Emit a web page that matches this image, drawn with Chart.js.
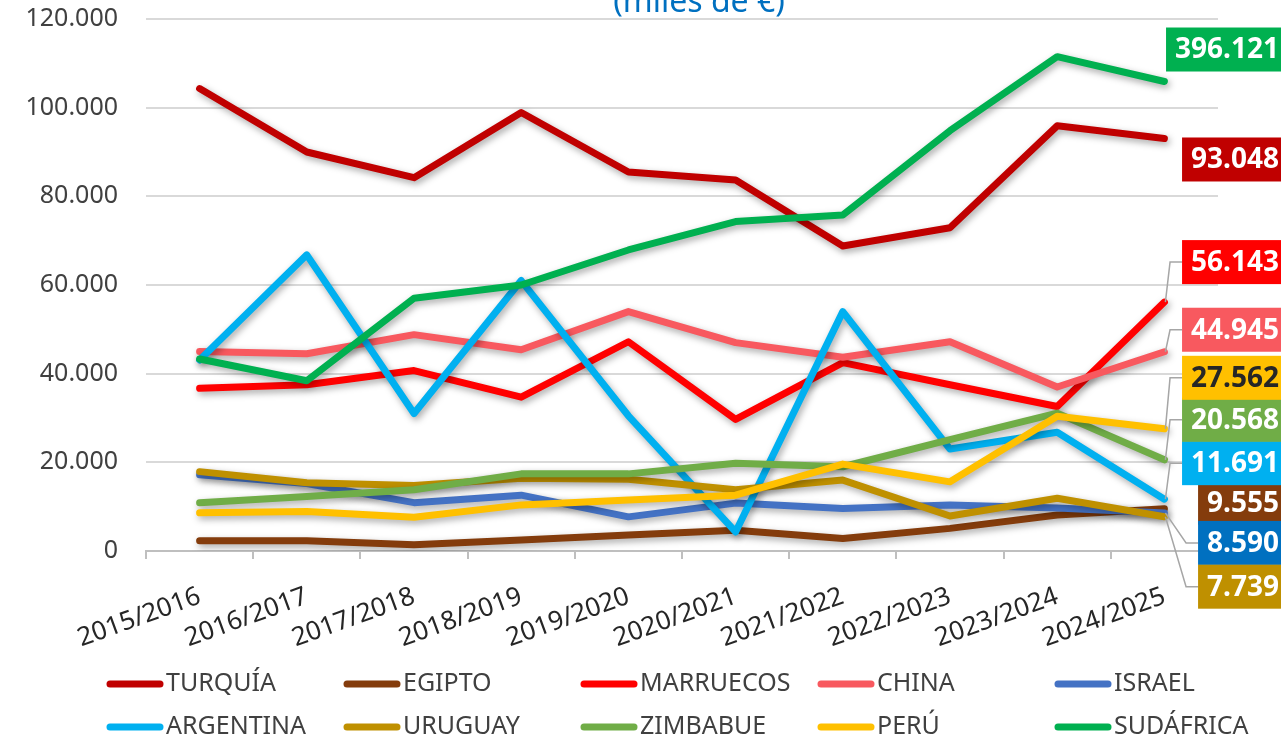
<!DOCTYPE html>
<html>
<head>
<meta charset="utf-8">
<script src="https://cdn.jsdelivr.net/npm/chart.js@4.4.1/dist/chart.umd.min.js"></script>
<style>
  html, body { margin: 0; padding: 0; background: #fff; }
  #wrap { width: 1281px; height: 743px; }
</style>
</head>
<body>
<div id="wrap"><canvas id="grafico" width="1281" height="743"></canvas></div>
<script>
const temporadas = ['2015/2016', '2016/2017', '2017/2018', '2018/2019', '2019/2020',
    '2020/2021', '2021/2022', '2022/2023', '2023/2024', '2024/2025'];

const paises = ['TURQUÍA', 'EGIPTO', 'MARRUECOS', 'CHINA', 'ISRAEL',
    'ARGENTINA', 'URUGUAY', 'ZIMBABUE', 'PERÚ', 'SUDÁFRICA'];

const turquia   = [104300, 90000, 84200, 98900, 85500, 83700, 68800, 72900, 95900, 93048];
const egipto    = [2300, 2300, 1400, 2500, 3600, 4700, 2800, 5100, 8100, 9555];
const marruecos = [36700, 37500, 40700, 34700, 47200, 29700, 42500, 37500, 32600, 56143];
const china     = [45000, 44500, 48800, 45400, 54000, 47000, 43700, 47200, 37000, 44945];
const israel    = [17200, 15200, 10900, 12600, 7700, 10800, 9600, 10400, 9700, 8590];
const argentina = [43100, 66800, 31000, 61000, 30500, 4300, 54000, 23000, 26800, 11691];
const uruguay   = [17900, 15400, 14800, 16400, 16200, 13800, 16000, 7900, 11900, 7739];
const zimbabue  = [10900, 12300, 13800, 17400, 17400, 19800, 19000, 25100, 31100, 20568];
const peru      = [8600, 8900, 7600, 10400, 11500, 12600, 19600, 15600, 30400, 27562];
const sudafrica = [43300, 38400, 57000, 60000, 67900, 74300, 75800, 94800, 111500, 105900];

// etiquetas finales tal como aparecen en el gráfico
const etiquetas = ['93.048', '9.555', '56.143', '44.945', '8.590',
    '11.691', '7.739', '20.568', '27.562', '396.121'];

const yTicks = [0, 20000, 40000, 60000, 80000, 100000, 120000];

const series = [turquia, egipto, marruecos, china, israel, argentina, uruguay, zimbabue, peru, sudafrica];
const colores = ['#C00000', '#843C0C', '#FF0000', '#F8595F', '#4472C4',
    '#00B0F0', '#BF9000', '#70AD47', '#FFC000', '#00B050'];
const coloresCaja = ['#C00000', '#843C0C', '#FF0000', '#F8595F', '#0070C0',
    '#00B0F0', '#BF9000', '#70AD47', '#FFC000', '#00B050'];
const textoCaja = ['#fff', '#fff', '#fff', '#fff', '#fff', '#fff', '#fff', '#fff', '#262626', '#fff'];
// desplazamiento vertical (px) de cada etiqueta respecto al final de su línea
const desplaz = [21, -6, -40, -22, 30, -36, 70, -40, -51, -32];

const FUENTE = '"Noto Sans", "Open Sans", sans-serif';
const fmt = v => v.toLocaleString('de-DE');

// sombra suave bajo cada línea
const sombra = {
    id: 'sombra',
    beforeDatasetDraw(chart) {
        const ctx = chart.ctx;
        ctx.save();
        ctx.shadowColor = 'rgba(0,0,0,0.35)';
        ctx.shadowBlur = 7;
        ctx.shadowOffsetX = 2;
        ctx.shadowOffsetY = 3;
    },
    afterDatasetDraw(chart) {
        chart.ctx.restore();
    }
};

// etiquetas de valor al final de cada serie
const etiquetasFinales = {
    id: 'etiquetasFinales',
    afterDatasetsDraw(chart) {
        const ctx = chart.ctx;
        ctx.save();
        ctx.font = 'bold 28px ' + FUENTE;
        ctx.textBaseline = 'middle';
        ctx.textAlign = 'right';
        series.forEach((s, i) => {
            const meta = chart.getDatasetMeta(i);
            const p = meta.data[meta.data.length - 1];
            const cy = p.y + desplaz[i];
            const w = ctx.measureText(etiquetas[i]).width;
            const derecha = 1279;
            const izq = derecha - w - 9;
            if (Math.abs(desplaz[i]) > 20 && i !== 9 && i !== 0) {
                ctx.strokeStyle = '#A6A6A6';
                ctx.lineWidth = 1.5;
                ctx.beginPath();
                ctx.moveTo(p.x + 1, p.y);
                ctx.lineTo(izq - 12, cy);
                ctx.lineTo(izq, cy);
                ctx.stroke();
            }
            ctx.fillStyle = coloresCaja[i];
            ctx.fillRect(izq, cy - 22, chart.width - izq, 44);
            ctx.fillStyle = textoCaja[i];
            ctx.fillText(etiquetas[i], derecha, cy + 1);
        });
        ctx.restore();
    }
};

// leyenda en rejilla de 2 filas x 5 columnas
const leyenda = {
    id: 'leyenda',
    afterDraw(chart) {
        const ctx = chart.ctx;
        ctx.save();
        ctx.font = '25px ' + FUENTE;
        ctx.textBaseline = 'middle';
        ctx.textAlign = 'left';
        paises.forEach((nombre, i) => {
            const x = 110 + (i % 5) * 237;
            const y = 684 + Math.floor(i / 5) * 43;
            ctx.strokeStyle = colores[i];
            ctx.lineWidth = 7;
            ctx.lineCap = 'round';
            ctx.beginPath();
            ctx.moveTo(x, y);
            ctx.lineTo(x + 50, y);
            ctx.stroke();
            ctx.fillStyle = '#404040';
            ctx.fillText(nombre, x + 56, y);
        });
        // título (solo asoma la última línea)
        ctx.font = '32px ' + FUENTE;
        ctx.fillStyle = '#0070C0';
        ctx.textAlign = 'center';
        ctx.textBaseline = 'alphabetic';
        ctx.fillText('(miles de €)', 699, 12);
        ctx.restore();
    }
};

new Chart(document.getElementById('grafico'), {
    type: 'line',
    data: {
        labels: temporadas,
        datasets: series.map((s, i) => ({
            label: paises[i],
            data: s,
            borderColor: colores[i],
            backgroundColor: colores[i],
            borderWidth: 7,
            pointRadius: 0,
            tension: 0,
            borderCapStyle: 'round',
            borderJoinStyle: 'round',
            order: series.length - i
        }))
    },
    options: {
        responsive: false,
        animation: false,
        layout: { padding: { top: 19, right: 63, left: 0, bottom: 0 } },
        plugins: {
            legend: { display: false },
            tooltip: { enabled: false }
        },
        scales: {
            y: {
                min: 0,
                max: 120000,
                afterBuildTicks: s => { s.ticks = yTicks.map(v => ({ value: v })); },
                afterFit: s => { s.width = 146; },
                ticks: {
                    callback: v => fmt(v),
                    font: { size: 25, family: FUENTE },
                    color: '#404040',
                    padding: 0
                },
                // marcas invisibles para separar las etiquetas del área
                grid: { color: '#D9D9D9', lineWidth: 2, drawTicks: true, tickLength: 28, tickColor: 'rgba(0,0,0,0)' },
                border: { display: false }
            },
            x: {
                offset: true,
                afterFit: s => { s.height = 192; },
                ticks: {
                    minRotation: 20,
                    maxRotation: 20,
                    autoSkip: false,
                    font: { size: 26, family: FUENTE },
                    color: '#262626',
                    padding: 22
                },
                grid: { drawOnChartArea: false, color: '#BFBFBF', lineWidth: 2, tickLength: 8, offset: true },
                border: { color: '#BFBFBF', width: 2 }
            }
        }
    },
    plugins: [sombra, etiquetasFinales, leyenda]
});
</script>
</body>
</html>
